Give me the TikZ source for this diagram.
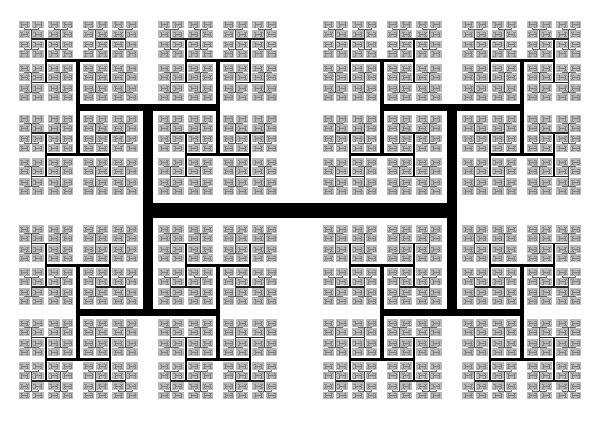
\documentclass[tikz,border=0pt]{standalone}
\def\treedepth{13}
\def\lvcol#1{\ifcase#1 black\or black\or black\or black\or black\or black\or black!85\or black!72\or black!60\or black!52\or black!50\or black!48\else black!45\fi}
\def\hstep#1#2#3#4#5#6{%
  \ifnum#6>0
    \begingroup
    \pgfmathsetmacro\xa{#1-#3/2}%
    \pgfmathsetmacro\xb{#1+#3/2}%
    \pgfmathtruncatemacro\lk{\treedepth-#6}%
    \ifnum\lk=10
      \pgfmathsetmacro\bxa{#1-0.926*#3}\pgfmathsetmacro\bxb{#1+0.926*#3}%
      \pgfmathsetmacro\bya{#2-0.926*#4}\pgfmathsetmacro\byb{#2+0.926*#4}%
      \fill[blobfill] (\bxa,\bya) rectangle (\bxb,\byb);
    \fi
    \draw[treeline, draw=\lvcol{\lk}, line width=#5pt] (\xa,#2) -- (\xb,#2);
    \pgfmathsetmacro\nw{#5*0.68}%
    \pgfmathtruncatemacro\nl{#6-1}%
    \edef\next{\noexpand\vstep{\xa}{#2}{#3}{#4}{\nw}{\nl}%
      \noexpand\vstep{\xb}{#2}{#3}{#4}{\nw}{\nl}}%
    \next
    \endgroup
  \fi}
\def\vstep#1#2#3#4#5#6{%
  \ifnum#6>0
    \begingroup
    \pgfmathsetmacro\ya{#2-#4/2}%
    \pgfmathsetmacro\yb{#2+#4/2}%
    \pgfmathtruncatemacro\lk{\treedepth-#6}%
    \draw[treeline, draw=\lvcol{\lk}, line width=#5pt] (#1,\ya) -- (#1,\yb);
    \pgfmathsetmacro\nw{#5*0.68}%
    \pgfmathsetmacro\nh{#3*0.46}%
    \pgfmathsetmacro\nv{#4*0.46}%
    \pgfmathtruncatemacro\nl{#6-1}%
    \edef\next{\noexpand\hstep{#1}{\ya}{\nh}{\nv}{\nw}{\nl}%
      \noexpand\hstep{#1}{\yb}{\nh}{\nv}{\nw}{\nl}}%
    \next
    \endgroup
  \fi}
\begin{document}
\begin{tikzpicture}[x=1pt,y=-1pt,treeline/.style={line cap=butt},blobfill/.style={fill=black!28}]
\useasboundingbox (0,0) rectangle (600,424);
\fill[white] (0,0) rectangle (600,424);
\hstep{300}{210}{304}{204.5}{15}{\treedepth}
\end{tikzpicture}
\end{document}
